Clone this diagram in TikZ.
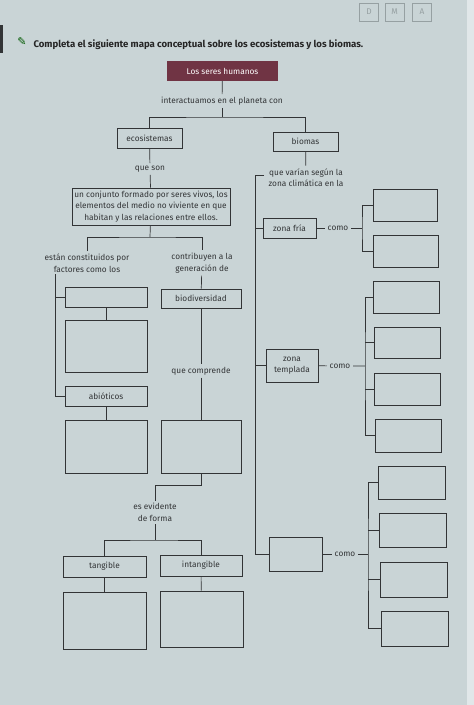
\documentclass[tikz,border=0pt]{standalone}
\usepackage{fontspec}
\setmainfont{Fira Sans}
\newfontfamily\symfont{DejaVu Sans}
\usetikzlibrary{positioning}

\definecolor{paper}{RGB}{201,212,214}
\definecolor{wine}{RGB}{112,52,68}
\definecolor{ink}{RGB}{50,52,54}
\definecolor{faint}{RGB}{150,160,162}

\begin{document}
\begin{tikzpicture}[x=1pt, y=-1pt,
 every node/.style={font=\fontsize{8.3}{11.5}\selectfont, text=ink},
 box/.style={draw=ink, line width=0.8pt, inner sep=1pt, align=center},
 title/.style={fill=wine, text=white, inner sep=1pt},
 lbl/.style={align=center, inner sep=2.5pt},
 dma/.style={draw=faint, text=faint, line width=0.7pt, minimum width=19, minimum height=18},
 link/.style={draw=ink, line width=0.7pt}]
 \fill[paper] (0,0) rectangle (474,705);
 \fill[paper!55!white] (467,0) rectangle (474,705);
 \fill[ink] (0,25) rectangle (2.5,53);
 \useasboundingbox (0,0) rectangle (474,705);

 \node[dma] (d) at (369,12) {D};
 \node[dma] (m) at (394.5,12) {M};
 \node[dma] (a) at (422,12) {A};
 \node[text=green!35!black, font=\symfont\fontsize{11}{11}\selectfont] (icon) at (22,42) {✎};
 \node[anchor=west, font=\bfseries\fontsize{9.6}{11}\selectfont, text=black!85] (task) at (30,45)
  {Completa el siguiente mapa conceptual sobre los ecosistemas y los biomas.};

 \node[title, minimum width=111, minimum height=20] (humanos) at (222.5,71) {Los seres humanos};
 \node[lbl] (interact) at (222,101) {interactuamos en el planeta con};
 \coordinate (split1) at (222,117);

 \node[box, minimum width=65, minimum height=20] (eco) at (149.5,138) {ecosistemas};
 \node[lbl] (queson) at (150,169) {que son};
 \node[box, minimum width=158, minimum height=37] (conj) at (151,206.5)
  {un conjunto formado por seres vivos, los\\elementos del medio no viviente en que\\habitan y las relaciones entre ellos.};
 \coordinate (split2) at (150,237);
 \node[lbl] (estan) at (87,263) {están constituidos por\\factores como los};
 \node[lbl] (contrib) at (202,263) {contribuyen a la\\generación de};
 \coordinate (lspine) at (55,274);
 \node[box, minimum width=82, minimum height=20] (fact) at (106,297) {};
 \node[box, minimum width=82, minimum height=52] (factsub) at (106,346) {};
 \node[box, minimum width=82, minimum height=20] (abio) at (106,396) {abióticos};
 \node[box, minimum width=82, minimum height=53] (abiosub) at (106,446.5) {};
 \node[box, minimum width=80, minimum height=19] (biod) at (201,298.5) {biodiversidad};
 \node[lbl] (compr) at (201,371) {que comprende};
 \node[box, minimum width=80, minimum height=53] (comprsub) at (201,446.5) {};
 \node[lbl] (evid) at (155,512.5) {es evidente\\de forma};
 \coordinate (split3) at (155,540);
 \node[box, minimum width=83, minimum height=21] (tang) at (104.5,566.5) {tangible};
 \node[box, minimum width=82, minimum height=21] (intang) at (201,565.5) {intangible};
 \node[box, minimum width=83, minimum height=57] (tangsub) at (104.5,620.5) {};
 \node[box, minimum width=83, minimum height=56] (intangsub) at (201.5,619) {};

 \node[box, minimum width=65, minimum height=19] (biomas) at (305.5,141.5) {biomas};
 \node[lbl] (varian) at (306,177.5) {que varían según la\\zona climática en la};
 \coordinate (rtop) at (264,175);
 \coordinate (rspine) at (255,175);
 \node[box, minimum width=53, minimum height=20] (fria) at (289.5,228) {zona fría};
 \node[lbl] (como1) at (338,228) {como};
 \coordinate (brk1) at (362,228);
 \node[box, minimum width=64, minimum height=32] (fria1) at (405,205) {};
 \node[box, minimum width=65, minimum height=32] (fria2) at (405.5,251) {};
 \node[box, minimum width=52, minimum height=33] (templ) at (292,365.5) {zona\\templada};
 \node[lbl] (como2) at (340,366) {como};
 \coordinate (brk2) at (365,366);
 \node[box, minimum width=66, minimum height=32] (templ1) at (406,297) {};
 \node[box, minimum width=66, minimum height=31] (templ2) at (407,342.5) {};
 \node[box, minimum width=66, minimum height=32] (templ3) at (407.5,389) {};
 \node[box, minimum width=66, minimum height=33] (templ4) at (408,435.5) {};
 \node[box, minimum width=53, minimum height=34] (zona) at (295.5,554) {};
 \node[lbl] (como3) at (345,554) {como};
 \coordinate (brk3) at (368,554);
 \node[box, minimum width=67, minimum height=33] (zona1) at (411.5,482.5) {};
 \node[box, minimum width=67, minimum height=34] (zona2) at (413,530) {};
 \node[box, minimum width=67, minimum height=35] (zona3) at (414,579.5) {};
 \node[box, minimum width=67, minimum height=35] (zona4) at (415,628.5) {};

 \draw[link] (humanos) -- (interact);
 \draw[link] (interact) -- (split1);
 \draw[link] (eco.north) |- (split1) -| (biomas.north);
 \draw[link] (eco) -- (queson);
 \draw[link] (queson) -- (conj);
 \draw[link] (conj) -- (split2);
 \draw[link] (estan.north) |- (split2) -| (contrib.north);
 \draw[link] (lspine) |- (fact.west);
 \draw[link] (lspine) |- (abio.west);
 \draw[link] (fact) -- (factsub);
 \draw[link] (abio) -- (abiosub);
 \draw[link] (contrib) -- (biod);
 \draw[link] (biod) -- (compr);
 \draw[link] (compr) -- (comprsub);
 \draw[link] (comprsub.south) -- ++(0,12) -| (evid.north);
 \draw[link] (evid) -- (split3);
 \draw[link] (tang.north) |- (split3) -| (intang.north);
 \draw[link] (tang) -- (tangsub);
 \draw[link] (intang) -- (intangsub);

 \draw[link] (biomas) -- (varian);
 \draw[link] (rtop) -- (rspine) |- (zona.west);
 \draw[link] (fria.west) -- (fria.west -| rspine);
 \draw[link] (templ.west) -- (templ.west -| rspine);
 \draw[link] (fria) -- (como1) -- (brk1);
 \draw[link] (fria1.west) -| (brk1) |- (fria2.west);
 \draw[link] (templ) -- (como2) -- (brk2);
 \draw[link] (templ1.west) -| (brk2) |- (templ4.west);
 \draw[link] (templ2.west) -- (templ2.west -| brk2);
 \draw[link] (templ3.west) -- (templ3.west -| brk2);
 \draw[link] (zona) -- (como3) -- (brk3);
 \draw[link] (zona1.west) -| (brk3) |- (zona4.west);
 \draw[link] (zona2.west) -- (zona2.west -| brk3);
 \draw[link] (zona3.west) -- (zona3.west -| brk3);
\end{tikzpicture}
\end{document}
